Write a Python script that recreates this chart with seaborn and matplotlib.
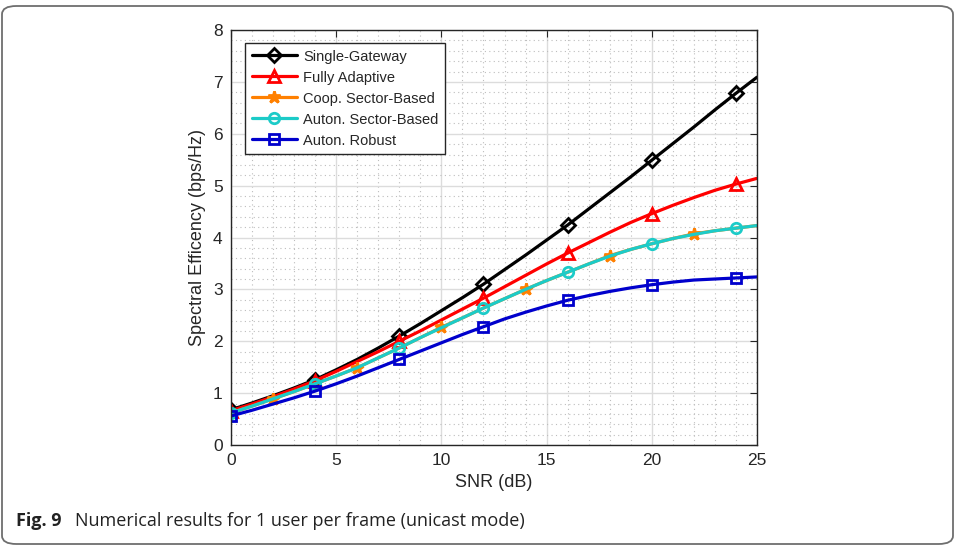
import numpy as np
import pandas as pd
import matplotlib
matplotlib.use("Agg")
import matplotlib.pyplot as plt
import seaborn as sns
from matplotlib.patches import FancyBboxPatch
from matplotlib.ticker import MultipleLocator

snr = list(range(0, 26))
single_gateway = [0.68, 0.81, 0.95, 1.10, 1.26, 1.45, 1.65, 1.87, 2.10, 2.34, 2.59, 2.84, 3.10,
                  3.38, 3.66, 3.95, 4.24, 4.55, 4.86, 5.17, 5.49, 5.81, 6.13, 6.46, 6.78, 7.09]
fully_adaptive = [0.66, 0.79, 0.93, 1.08, 1.24, 1.42, 1.61, 1.80, 2.00, 2.20, 2.41, 2.62, 2.83,
                  3.05, 3.27, 3.49, 3.70, 3.90, 4.10, 4.29, 4.46, 4.62, 4.77, 4.91, 5.03, 5.14]
coop_sector = [0.62, 0.75, 0.89, 1.03, 1.18, 1.33, 1.49, 1.68, 1.87, 2.07, 2.27, 2.45, 2.64,
               2.82, 3.00, 3.17, 3.33, 3.49, 3.65, 3.77, 3.88, 3.98, 4.07, 4.13, 4.18, 4.23]
auton_sector = [0.62, 0.75, 0.89, 1.03, 1.18, 1.33, 1.49, 1.68, 1.87, 2.07, 2.26, 2.45, 2.64,
                2.82, 3.00, 3.17, 3.33, 3.49, 3.64, 3.77, 3.88, 3.98, 4.06, 4.13, 4.18, 4.23]
auton_robust = [0.56, 0.67, 0.79, 0.91, 1.04, 1.18, 1.33, 1.49, 1.65, 1.81, 1.97, 2.13, 2.28,
                2.43, 2.56, 2.68, 2.79, 2.88, 2.96, 3.03, 3.09, 3.14, 3.18, 3.20, 3.22, 3.24]

series_names = ["Single-Gateway", "Fully Adaptive", "Coop. Sector-Based",
                "Auton. Sector-Based", "Auton. Robust"]
series_values = [single_gateway, fully_adaptive, coop_sector, auton_sector, auton_robust]
colors = ["#000000", "#ff0000", "#ff8000", "#1ccbc8", "#0000cc"]
markers = ["D", "^", "*", "o", "s"]
mark_start = [0, 0, 2, 0, 0]
msizes = [7, 8, 9, 7.5, 6.5]
faces = ["none", "none", "#ff8000", "none", "none"]

df = pd.DataFrame({"SNR": snr})
for n, v in zip(series_names, series_values):
    df[n] = v

sns.set_style("white")
plt.rcParams["font.family"] = ["Liberation Sans", "DejaVu Sans"]

fig = plt.figure(figsize=(9.57, 5.48), dpi=100)
ax = fig.add_axes([231/957, 103/548, 526/957, 415/548])

for name, c, m, ms, st, fc in zip(series_names, colors, markers, msizes, mark_start, faces):
    sns.lineplot(data=df, x="SNR", y=name, ax=ax, color=c, linewidth=2.3, label=name,
                 marker=m, markersize=ms, markevery=slice(st, None, 4),
                 markerfacecolor=fc, markeredgecolor=c, markeredgewidth=2.0)

ax.set_xlim(0, 25)
ax.set_ylim(0, 8)
ax.xaxis.set_major_locator(MultipleLocator(5))
ax.xaxis.set_minor_locator(MultipleLocator(1))
ax.yaxis.set_major_locator(MultipleLocator(1))
ax.yaxis.set_minor_locator(MultipleLocator(0.2))
ax.grid(which="major", color="#dcdcdc", linewidth=1.0, linestyle="-")
ax.grid(which="minor", color="#bdbdbd", linewidth=0.8, linestyle=(0, (1, 3)))
ax.set_axisbelow(True)
ax.tick_params(which="major", direction="in", length=5, width=0.8, colors="#262626",
               labelsize=12.5, top=True, right=True, pad=6, labelcolor="#262626")
ax.tick_params(which="minor", length=0, top=True, right=True)
for s in ax.spines.values():
    s.set_color("#262626")
    s.set_linewidth(1.0)
    s.set_visible(True)
ax.set_xlabel("SNR (dB)", fontsize=13, color="#262626", labelpad=4)
ax.set_ylabel("Spectral Efficency (bps/Hz)", fontsize=13, color="#262626", labelpad=5)

leg = ax.legend(loc="upper left", bbox_to_anchor=(14/526, 402/415), fontsize=10.5,
                frameon=True, fancybox=False, handlelength=3.1, handletextpad=0.45,
                borderpad=0.45, labelspacing=0.48, borderaxespad=0)
leg.get_frame().set_edgecolor("#262626")
leg.get_frame().set_linewidth(1.0)
leg.get_frame().set_alpha(1)

frame = FancyBboxPatch((2/957, 4/548), 951/957, 538/548, transform=fig.transFigure,
                       boxstyle="round,pad=0,rounding_size=0.015", facecolor="none",
                       edgecolor="#6e6e6e", linewidth=1.3, zorder=-1)
fig.patches.append(frame)

fig.text(16/957, 1 - 521/548, "Fig. 9", fontsize=13, fontweight="bold",
         family=["Open Sans", "DejaVu Sans"], va="center", ha="left", color="#222222")
fig.text(75/957, 1 - 521/548, "Numerical results for 1 user per frame (unicast mode)", fontsize=13,
         family=["Open Sans", "DejaVu Sans"], va="center", ha="left", color="#222222")

fig.savefig("out.png", dpi=100)
